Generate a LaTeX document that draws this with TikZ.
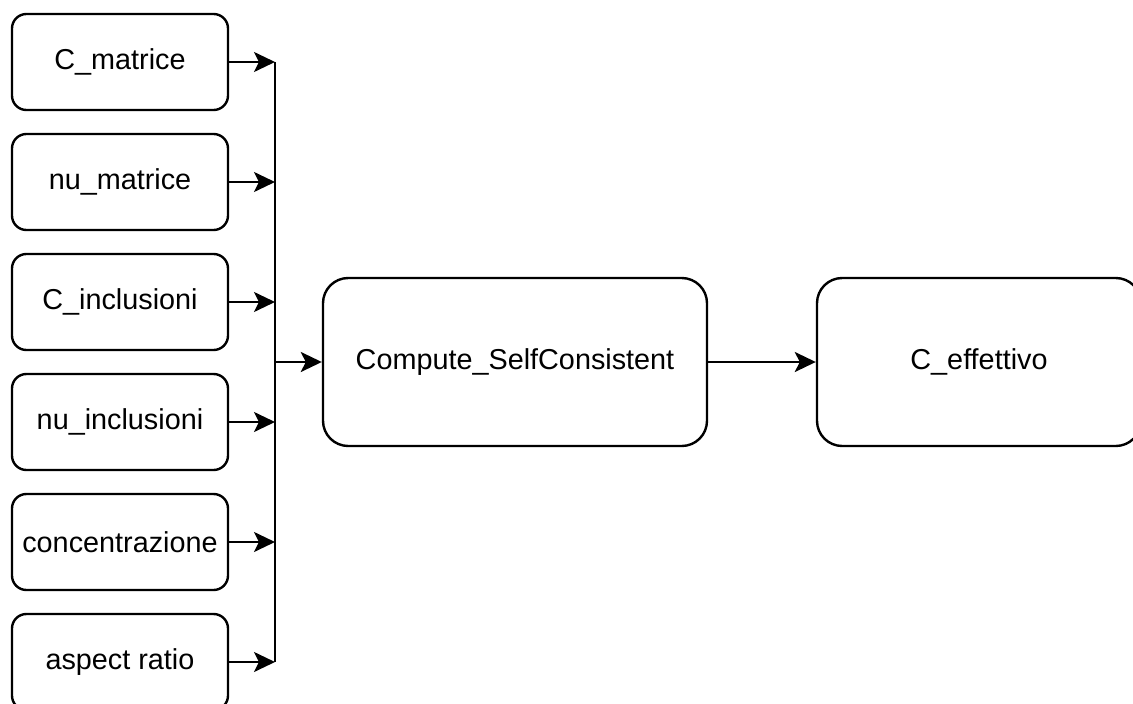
\documentclass[tikz,border=0pt]{standalone}
\usepackage{fontspec}
\setmainfont{Liberation Sans}
\usetikzlibrary{arrows.meta}

\tikzset{
  inbox/.style={draw, line width=2.4pt, rounded corners=14.4pt,
    minimum width=216pt, minimum height=96pt, inner sep=0pt},
  bigbox/.style={draw, line width=2.4pt, rounded corners=25.2pt,
    minimum height=168pt, inner sep=0pt},
  link/.style={line width=2.4pt,
    -{Stealth[length=21pt, width=20pt, inset=5pt]}},
  busline/.style={line width=2.4pt},
}

\begin{document}
\begin{tikzpicture}[x=1pt, y=-1pt, font=\fontsize{28.8}{34}\selectfont]
  \useasboundingbox (0,0) rectangle (1133,704);

  % input parameters
  \node[inbox] (cm)  at (120,62)  {C\_matrice};
  \node[inbox] (nm)  at (120,182) {nu\_matrice};
  \node[inbox] (ci)  at (120,302) {C\_inclusioni};
  \node[inbox] (ni)  at (120,422) {nu\_inclusioni};
  \node[inbox] (co)  at (120,542) {concentrazione};
  \node[inbox] (ar)  at (120,662) {aspect ratio};

  % solver and result
  \node[bigbox, minimum width=384pt] (comp) at (515,362) {Compute\_SelfConsistent};
  \node[bigbox, minimum width=324pt] (eff)  at (979,362) {C\_effettivo};

  % collecting bus
  \coordinate (bt) at (275,62);
  \coordinate (bb) at (275,662);
  \draw[busline] (bt) -- (bb);

  \foreach \n in {cm,nm,ci,ni,co,ar}
    \draw[link] (\n.east) -- (\n.east -| bt);

  \draw[link] (bt |- comp.west) -- (comp.west);
  \draw[link] (comp.east) -- (eff.west);
\end{tikzpicture}
\end{document}
